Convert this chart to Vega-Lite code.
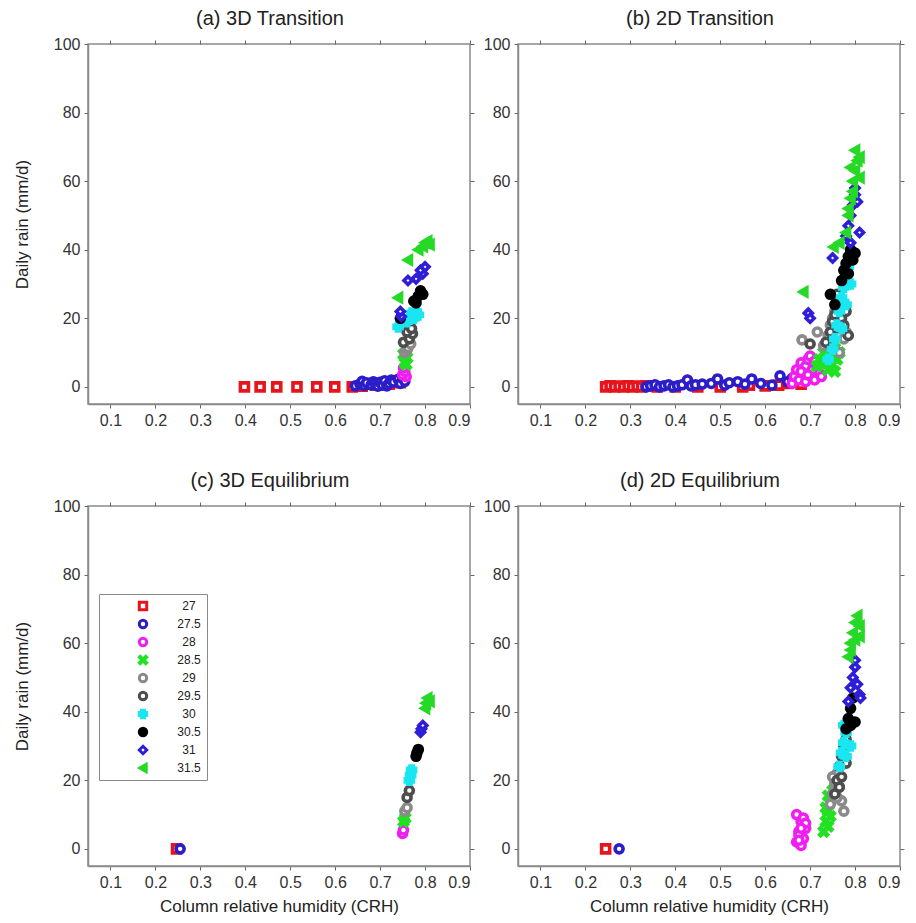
{
"$schema": "https://vega.github.io/schema/vega-lite/v6.json",
"padding": {"left": 12, "top": 8, "right": 5, "bottom": 5},
"background": "white",
"datasets": {"pts": [
{"p":"a","T":"27","x":0.398,"y":0},{"p":"a","T":"27","x":0.433,"y":0},{"p":"a","T":"27","x":0.47,"y":0},{"p":"a","T":"27","x":0.515,"y":0},{"p":"a","T":"27","x":0.559,"y":0},{"p":"a","T":"27","x":0.599,"y":0},{"p":"a","T":"27","x":0.638,"y":0},{"p":"a","T":"27","x":0.66,"y":0.2},{"p":"a","T":"27","x":0.69,"y":0.5},{"p":"a","T":"27","x":0.72,"y":0.8},{"p":"a","T":"27","x":0.745,"y":1.2},
{"p":"a","T":"27.5","x":0.645,"y":0.3},{"p":"a","T":"27.5","x":0.655,"y":0.8},{"p":"a","T":"27.5","x":0.66,"y":1.6},{"p":"a","T":"27.5","x":0.665,"y":0.4},{"p":"a","T":"27.5","x":0.67,"y":1.2},{"p":"a","T":"27.5","x":0.68,"y":0.6},{"p":"a","T":"27.5","x":0.685,"y":1.5},{"p":"a","T":"27.5","x":0.69,"y":0.9},{"p":"a","T":"27.5","x":0.695,"y":0.2},{"p":"a","T":"27.5","x":0.7,"y":1.3},{"p":"a","T":"27.5","x":0.705,"y":0.5},{"p":"a","T":"27.5","x":0.71,"y":1.8},{"p":"a","T":"27.5","x":0.715,"y":0.3},{"p":"a","T":"27.5","x":0.72,"y":1.0},{"p":"a","T":"27.5","x":0.725,"y":2.0},{"p":"a","T":"27.5","x":0.73,"y":1.4},{"p":"a","T":"27.5","x":0.74,"y":2.2},{"p":"a","T":"27.5","x":0.745,"y":1.0},{"p":"a","T":"27.5","x":0.75,"y":2.5},{"p":"a","T":"27.5","x":0.755,"y":1.6},
{"p":"a","T":"28","x":0.758,"y":3.0},{"p":"a","T":"28","x":0.75,"y":3.5},{"p":"a","T":"28","x":0.755,"y":4.5},{"p":"a","T":"28","x":0.752,"y":5.5},
{"p":"a","T":"28.5","x":0.758,"y":6.5},{"p":"a","T":"28.5","x":0.755,"y":7},{"p":"a","T":"28.5","x":0.76,"y":8.5},{"p":"a","T":"28.5","x":0.752,"y":9.5},
{"p":"a","T":"29","x":0.755,"y":10},{"p":"a","T":"29","x":0.76,"y":10.8},{"p":"a","T":"29","x":0.762,"y":11.5},{"p":"a","T":"29","x":0.768,"y":12.5},
{"p":"a","T":"29.5","x":0.752,"y":13},{"p":"a","T":"29.5","x":0.765,"y":14},{"p":"a","T":"29.5","x":0.772,"y":15.5},{"p":"a","T":"29.5","x":0.76,"y":16},{"p":"a","T":"29.5","x":0.77,"y":17},
{"p":"a","T":"30","x":0.74,"y":17.5},{"p":"a","T":"30","x":0.76,"y":19},{"p":"a","T":"30","x":0.775,"y":20},{"p":"a","T":"30","x":0.77,"y":21.5},{"p":"a","T":"30","x":0.785,"y":21},{"p":"a","T":"30","x":0.78,"y":22},
{"p":"a","T":"30.5","x":0.745,"y":20},{"p":"a","T":"30.5","x":0.78,"y":24.5},{"p":"a","T":"30.5","x":0.775,"y":25},{"p":"a","T":"30.5","x":0.785,"y":26.5},{"p":"a","T":"30.5","x":0.795,"y":27},{"p":"a","T":"30.5","x":0.79,"y":28},
{"p":"a","T":"31","x":0.747,"y":20.5},{"p":"a","T":"31","x":0.745,"y":22},{"p":"a","T":"31","x":0.762,"y":31},{"p":"a","T":"31","x":0.78,"y":31.5},{"p":"a","T":"31","x":0.795,"y":33},{"p":"a","T":"31","x":0.79,"y":34},{"p":"a","T":"31","x":0.8,"y":35},
{"p":"a","T":"31.5","x":0.74,"y":26},{"p":"a","T":"31.5","x":0.762,"y":37},{"p":"a","T":"31.5","x":0.785,"y":40},{"p":"a","T":"31.5","x":0.795,"y":41},{"p":"a","T":"31.5","x":0.81,"y":41.5},{"p":"a","T":"31.5","x":0.8,"y":42},{"p":"a","T":"31.5","x":0.805,"y":42.5},

{"p":"b","T":"27","x":0.245,"y":0},{"p":"b","T":"27","x":0.255,"y":0.3},{"p":"b","T":"27","x":0.265,"y":0},{"p":"b","T":"27","x":0.275,"y":0.2},{"p":"b","T":"27","x":0.285,"y":0},{"p":"b","T":"27","x":0.295,"y":0.3},{"p":"b","T":"27","x":0.305,"y":0},{"p":"b","T":"27","x":0.315,"y":0.2},{"p":"b","T":"27","x":0.325,"y":0},{"p":"b","T":"27","x":0.335,"y":0.3},{"p":"b","T":"27","x":0.36,"y":0},{"p":"b","T":"27","x":0.4,"y":0},{"p":"b","T":"27","x":0.45,"y":0},{"p":"b","T":"27","x":0.5,"y":0},{"p":"b","T":"27","x":0.55,"y":0},{"p":"b","T":"27","x":0.565,"y":0.5},{"p":"b","T":"27","x":0.6,"y":0.3},{"p":"b","T":"27","x":0.63,"y":0.5},{"p":"b","T":"27","x":0.65,"y":1.0},{"p":"b","T":"27","x":0.68,"y":0.8},
{"p":"b","T":"27.5","x":0.335,"y":0},{"p":"b","T":"27.5","x":0.345,"y":0.3},{"p":"b","T":"27.5","x":0.355,"y":0.6},{"p":"b","T":"27.5","x":0.365,"y":0},{"p":"b","T":"27.5","x":0.375,"y":0.3},{"p":"b","T":"27.5","x":0.385,"y":0.6},{"p":"b","T":"27.5","x":0.395,"y":0},{"p":"b","T":"27.5","x":0.405,"y":0.3},{"p":"b","T":"27.5","x":0.415,"y":0.6},{"p":"b","T":"27.5","x":0.427,"y":2.0},{"p":"b","T":"27.5","x":0.435,"y":0.3},{"p":"b","T":"27.5","x":0.445,"y":0.6},{"p":"b","T":"27.5","x":0.46,"y":0.8},{"p":"b","T":"27.5","x":0.48,"y":1.0},{"p":"b","T":"27.5","x":0.494,"y":2.3},{"p":"b","T":"27.5","x":0.51,"y":0.5},{"p":"b","T":"27.5","x":0.52,"y":1.2},{"p":"b","T":"27.5","x":0.539,"y":1.5},{"p":"b","T":"27.5","x":0.555,"y":0.8},{"p":"b","T":"27.5","x":0.57,"y":2.3},{"p":"b","T":"27.5","x":0.59,"y":1.0},{"p":"b","T":"27.5","x":0.615,"y":0.5},{"p":"b","T":"27.5","x":0.633,"y":3.2},{"p":"b","T":"27.5","x":0.65,"y":1.5},{"p":"b","T":"27.5","x":0.66,"y":2.5},
{"p":"b","T":"28","x":0.66,"y":1},{"p":"b","T":"28","x":0.665,"y":3},{"p":"b","T":"28","x":0.67,"y":5},{"p":"b","T":"28","x":0.675,"y":2},{"p":"b","T":"28","x":0.68,"y":7},{"p":"b","T":"28","x":0.685,"y":4},{"p":"b","T":"28","x":0.69,"y":6},{"p":"b","T":"28","x":0.695,"y":8},{"p":"b","T":"28","x":0.7,"y":3},{"p":"b","T":"28","x":0.705,"y":5},{"p":"b","T":"28","x":0.71,"y":2},{"p":"b","T":"28","x":0.715,"y":6.5},{"p":"b","T":"28","x":0.72,"y":4},{"p":"b","T":"28","x":0.725,"y":3},{"p":"b","T":"28","x":0.69,"y":1.5},{"p":"b","T":"28","x":0.7,"y":9},{"p":"b","T":"28","x":0.68,"y":4.5},{"p":"b","T":"28","x":0.695,"y":3.5},{"p":"b","T":"28","x":0.71,"y":7.5},
{"p":"b","T":"28.5","x":0.715,"y":6},{"p":"b","T":"28.5","x":0.72,"y":8},{"p":"b","T":"28.5","x":0.73,"y":10},{"p":"b","T":"28.5","x":0.735,"y":7},{"p":"b","T":"28.5","x":0.74,"y":12},{"p":"b","T":"28.5","x":0.745,"y":9},{"p":"b","T":"28.5","x":0.75,"y":11},{"p":"b","T":"28.5","x":0.755,"y":13},{"p":"b","T":"28.5","x":0.76,"y":8},{"p":"b","T":"28.5","x":0.765,"y":10},{"p":"b","T":"28.5","x":0.74,"y":5},{"p":"b","T":"28.5","x":0.75,"y":6.5},{"p":"b","T":"28.5","x":0.755,"y":4.5},
{"p":"b","T":"29","x":0.682,"y":13.7},{"p":"b","T":"29","x":0.716,"y":16},{"p":"b","T":"29","x":0.73,"y":12},{"p":"b","T":"29","x":0.74,"y":15},{"p":"b","T":"29","x":0.745,"y":18},{"p":"b","T":"29","x":0.75,"y":20},{"p":"b","T":"29","x":0.755,"y":22},{"p":"b","T":"29","x":0.76,"y":17},{"p":"b","T":"29","x":0.765,"y":10},{"p":"b","T":"29","x":0.77,"y":24},{"p":"b","T":"29","x":0.775,"y":14},{"p":"b","T":"29","x":0.78,"y":16},{"p":"b","T":"29","x":0.76,"y":25},{"p":"b","T":"29","x":0.75,"y":14},{"p":"b","T":"29","x":0.765,"y":20},
{"p":"b","T":"29.5","x":0.7,"y":12.5},{"p":"b","T":"29.5","x":0.735,"y":13},{"p":"b","T":"29.5","x":0.745,"y":16},{"p":"b","T":"29.5","x":0.75,"y":19},{"p":"b","T":"29.5","x":0.755,"y":21},{"p":"b","T":"29.5","x":0.76,"y":23},{"p":"b","T":"29.5","x":0.765,"y":26},{"p":"b","T":"29.5","x":0.77,"y":20},{"p":"b","T":"29.5","x":0.775,"y":18},{"p":"b","T":"29.5","x":0.78,"y":22},{"p":"b","T":"29.5","x":0.785,"y":15},{"p":"b","T":"29.5","x":0.76,"y":27},{"p":"b","T":"29.5","x":0.765,"y":17},
{"p":"b","T":"30","x":0.74,"y":8},{"p":"b","T":"30","x":0.75,"y":11},{"p":"b","T":"30","x":0.755,"y":14},{"p":"b","T":"30","x":0.76,"y":18},{"p":"b","T":"30","x":0.765,"y":22},{"p":"b","T":"30","x":0.77,"y":26},{"p":"b","T":"30","x":0.775,"y":29},{"p":"b","T":"30","x":0.78,"y":32},{"p":"b","T":"30","x":0.785,"y":35},{"p":"b","T":"30","x":0.79,"y":30},{"p":"b","T":"30","x":0.78,"y":24},{"p":"b","T":"30","x":0.77,"y":17},
{"p":"b","T":"30.5","x":0.745,"y":27},{"p":"b","T":"30.5","x":0.755,"y":24},{"p":"b","T":"30.5","x":0.77,"y":31},{"p":"b","T":"30.5","x":0.775,"y":34},{"p":"b","T":"30.5","x":0.78,"y":36},{"p":"b","T":"30.5","x":0.785,"y":38},{"p":"b","T":"30.5","x":0.79,"y":40},{"p":"b","T":"30.5","x":0.795,"y":37},{"p":"b","T":"30.5","x":0.8,"y":39},{"p":"b","T":"30.5","x":0.785,"y":33},
{"p":"b","T":"31","x":0.696,"y":21.5},{"p":"b","T":"31","x":0.7,"y":20},{"p":"b","T":"31","x":0.75,"y":37.6},{"p":"b","T":"31","x":0.78,"y":44},{"p":"b","T":"31","x":0.785,"y":47},{"p":"b","T":"31","x":0.79,"y":50},{"p":"b","T":"31","x":0.795,"y":53},{"p":"b","T":"31","x":0.8,"y":56},{"p":"b","T":"31","x":0.805,"y":54},{"p":"b","T":"31","x":0.81,"y":45},{"p":"b","T":"31","x":0.79,"y":42},{"p":"b","T":"31","x":0.8,"y":58},
{"p":"b","T":"31.5","x":0.685,"y":27.7},{"p":"b","T":"31.5","x":0.752,"y":40.8},{"p":"b","T":"31.5","x":0.765,"y":42},{"p":"b","T":"31.5","x":0.78,"y":45},{"p":"b","T":"31.5","x":0.785,"y":50},{"p":"b","T":"31.5","x":0.785,"y":52},{"p":"b","T":"31.5","x":0.79,"y":55},{"p":"b","T":"31.5","x":0.795,"y":57},{"p":"b","T":"31.5","x":0.795,"y":60},{"p":"b","T":"31.5","x":0.81,"y":61},{"p":"b","T":"31.5","x":0.8,"y":63},{"p":"b","T":"31.5","x":0.79,"y":64},{"p":"b","T":"31.5","x":0.805,"y":66},{"p":"b","T":"31.5","x":0.81,"y":67},{"p":"b","T":"31.5","x":0.8,"y":69},

{"p":"c","T":"27","x":0.247,"y":0},
{"p":"c","T":"27.5","x":0.255,"y":0},
{"p":"c","T":"28","x":0.75,"y":4.5},{"p":"c","T":"28","x":0.752,"y":5.5},
{"p":"c","T":"28.5","x":0.752,"y":8},{"p":"c","T":"28.5","x":0.756,"y":9},
{"p":"c","T":"29","x":0.755,"y":11},{"p":"c","T":"29","x":0.76,"y":12},
{"p":"c","T":"29.5","x":0.76,"y":15},{"p":"c","T":"29.5","x":0.765,"y":17},
{"p":"c","T":"30","x":0.765,"y":20},{"p":"c","T":"30","x":0.768,"y":21.5},{"p":"c","T":"30","x":0.77,"y":23},
{"p":"c","T":"30.5","x":0.78,"y":27},{"p":"c","T":"30.5","x":0.782,"y":28},{"p":"c","T":"30.5","x":0.785,"y":29},
{"p":"c","T":"31","x":0.79,"y":34},{"p":"c","T":"31","x":0.792,"y":35},{"p":"c","T":"31","x":0.795,"y":36},
{"p":"c","T":"31.5","x":0.8,"y":41},{"p":"c","T":"31.5","x":0.802,"y":42.5},{"p":"c","T":"31.5","x":0.81,"y":43},{"p":"c","T":"31.5","x":0.805,"y":44},

{"p":"d","T":"27","x":0.245,"y":0},
{"p":"d","T":"27.5","x":0.275,"y":0},
{"p":"d","T":"28","x":0.67,"y":2},{"p":"d","T":"28","x":0.675,"y":5},{"p":"d","T":"28","x":0.68,"y":8},{"p":"d","T":"28","x":0.685,"y":3},{"p":"d","T":"28","x":0.69,"y":6},{"p":"d","T":"28","x":0.67,"y":10},{"p":"d","T":"28","x":0.68,"y":1},{"p":"d","T":"28","x":0.685,"y":9},{"p":"d","T":"28","x":0.675,"y":4},{"p":"d","T":"28","x":0.69,"y":7.5},{"p":"d","T":"28","x":0.68,"y":6},{"p":"d","T":"28","x":0.675,"y":2.5},
{"p":"d","T":"28.5","x":0.73,"y":5},{"p":"d","T":"28.5","x":0.735,"y":8},{"p":"d","T":"28.5","x":0.74,"y":11},{"p":"d","T":"28.5","x":0.745,"y":14},{"p":"d","T":"28.5","x":0.75,"y":17},{"p":"d","T":"28.5","x":0.74,"y":6.5},{"p":"d","T":"28.5","x":0.735,"y":12},{"p":"d","T":"28.5","x":0.745,"y":9.5},{"p":"d","T":"28.5","x":0.74,"y":15.5},
{"p":"d","T":"29","x":0.745,"y":13},{"p":"d","T":"29","x":0.75,"y":16},{"p":"d","T":"29","x":0.755,"y":19},{"p":"d","T":"29","x":0.76,"y":22},{"p":"d","T":"29","x":0.765,"y":18},{"p":"d","T":"29","x":0.77,"y":14},{"p":"d","T":"29","x":0.775,"y":11},{"p":"d","T":"29","x":0.76,"y":15},{"p":"d","T":"29","x":0.75,"y":21},{"p":"d","T":"29","x":0.755,"y":17},
{"p":"d","T":"29.5","x":0.755,"y":16},{"p":"d","T":"29.5","x":0.76,"y":20},{"p":"d","T":"29.5","x":0.765,"y":24},{"p":"d","T":"29.5","x":0.77,"y":27},{"p":"d","T":"29.5","x":0.775,"y":30},{"p":"d","T":"29.5","x":0.78,"y":25},{"p":"d","T":"29.5","x":0.77,"y":21},{"p":"d","T":"29.5","x":0.78,"y":32},{"p":"d","T":"29.5","x":0.765,"y":18},
{"p":"d","T":"30","x":0.765,"y":24},{"p":"d","T":"30","x":0.77,"y":28},{"p":"d","T":"30","x":0.775,"y":31},{"p":"d","T":"30","x":0.78,"y":34},{"p":"d","T":"30","x":0.785,"y":37},{"p":"d","T":"30","x":0.78,"y":27},{"p":"d","T":"30","x":0.775,"y":36},{"p":"d","T":"30","x":0.79,"y":30},
{"p":"d","T":"30.5","x":0.78,"y":35},{"p":"d","T":"30.5","x":0.785,"y":38},{"p":"d","T":"30.5","x":0.79,"y":41},{"p":"d","T":"30.5","x":0.795,"y":44},{"p":"d","T":"30.5","x":0.8,"y":37},{"p":"d","T":"30.5","x":0.79,"y":36},
{"p":"d","T":"31","x":0.785,"y":43},{"p":"d","T":"31","x":0.79,"y":47},{"p":"d","T":"31","x":0.795,"y":50},{"p":"d","T":"31","x":0.8,"y":53},{"p":"d","T":"31","x":0.805,"y":48},{"p":"d","T":"31","x":0.81,"y":45},{"p":"d","T":"31","x":0.812,"y":44},{"p":"d","T":"31","x":0.8,"y":55},
{"p":"d","T":"31.5","x":0.785,"y":56},{"p":"d","T":"31.5","x":0.79,"y":58},{"p":"d","T":"31.5","x":0.79,"y":60},{"p":"d","T":"31.5","x":0.8,"y":61},{"p":"d","T":"31.5","x":0.795,"y":63},{"p":"d","T":"31.5","x":0.81,"y":62},{"p":"d","T":"31.5","x":0.81,"y":65},{"p":"d","T":"31.5","x":0.8,"y":66},{"p":"d","T":"31.5","x":0.805,"y":68}
]},
"columns": 2,
"spacing": {"row": 102, "column": 48},
"bounds": "flush",
"concat": [
{"width": 382, "height": 360, "title": {"text": "(a) 3D Transition"},
 "data": {"name": "pts"}, "transform": [{"filter": "datum.p == 'a'"}],
 "layer": [
  {"mark": {"type": "point", "opacity": 0},
   "encoding": {
    "x": {"field": "x", "type": "quantitative", "scale": {"domain": [0.05, 0.9], "nice": false, "zero": false}, "axis": {"orient": "top", "labels": false, "title": null, "domain": false, "values": [0.1,0.2,0.3,0.4,0.5,0.6,0.7,0.8,0.9]}},
    "y": {"field": "y", "type": "quantitative", "scale": {"domain": [-5, 100], "nice": false, "zero": false}, "axis": {"orient": "right", "labels": false, "title": null, "domain": false, "values": [0,20,40,60,80,100]}}}},
  {"mark": {"type": "point", "size": 64, "strokeWidth": 3.6, "opacity": 1},
   "encoding": {
    "x": {"field": "x", "type": "quantitative", "axis": {"title": null, "format": ".1f", "values": [0.1,0.2,0.3,0.4,0.5,0.6,0.7,0.8,0.9]}},
    "y": {"field": "y", "type": "quantitative", "axis": {"title": "Daily rain (mm/d)", "values": [0,20,40,60,80,100]}},
    "stroke": {"field": "T", "type": "nominal", "scale": {"domain": ["27","27.5","28","28.5","29","29.5","30","30.5","31","31.5"], "range": ["#e8141c","#2b1dc8","#f01ef0","#22e022","#8a8a8a","#4d4d4d","#19e6f0","#000000","#2f1ed8","#26d926"]}},
    "fill": {"field": "T", "type": "nominal", "scale": {"domain": ["27","27.5","28","28.5","29","29.5","30","30.5","31","31.5"], "range": ["#ffffff","#ffffff","#ffffff","#22e022","#ffffff","#ffffff","#19e6f0","#000000","#ffffff","#26d926"]}},
    "shape": {"field": "T", "type": "nominal", "scale": {"domain": ["27","27.5","28","28.5","29","29.5","30","30.5","31","31.5"], "range": ["square","circle","circle","M-0.75,-1L0,-0.25L0.75,-1L1,-0.75L0.25,0L1,0.75L0.75,1L0,0.25L-0.75,1L-1,0.75L-0.25,0L-1,-0.75Z","circle","circle","cross","circle","diamond","triangle-left"]}}}}
 ],
 "resolve": {"axis": {"x": "independent", "y": "independent"}}},
{"width": 382, "height": 360, "title": {"text": "(b) 2D Transition"},
 "data": {"name": "pts"}, "transform": [{"filter": "datum.p == 'b'"}],
 "layer": [
  {"mark": {"type": "point", "opacity": 0},
   "encoding": {
    "x": {"field": "x", "type": "quantitative", "scale": {"domain": [0.05, 0.9], "nice": false, "zero": false}, "axis": {"orient": "top", "labels": false, "title": null, "domain": false, "values": [0.1,0.2,0.3,0.4,0.5,0.6,0.7,0.8,0.9]}},
    "y": {"field": "y", "type": "quantitative", "scale": {"domain": [-5, 100], "nice": false, "zero": false}, "axis": {"orient": "right", "labels": false, "title": null, "domain": false, "values": [0,20,40,60,80,100]}}}},
  {"mark": {"type": "point", "size": 64, "strokeWidth": 3.6, "opacity": 1},
   "encoding": {
    "x": {"field": "x", "type": "quantitative", "axis": {"title": null, "format": ".1f", "values": [0.1,0.2,0.3,0.4,0.5,0.6,0.7,0.8,0.9]}},
    "y": {"field": "y", "type": "quantitative", "axis": {"title": null, "values": [0,20,40,60,80,100]}},
    "stroke": {"field": "T", "type": "nominal", "scale": {"domain": ["27","27.5","28","28.5","29","29.5","30","30.5","31","31.5"], "range": ["#e8141c","#2b1dc8","#f01ef0","#22e022","#8a8a8a","#4d4d4d","#19e6f0","#000000","#2f1ed8","#26d926"]}},
    "fill": {"field": "T", "type": "nominal", "scale": {"domain": ["27","27.5","28","28.5","29","29.5","30","30.5","31","31.5"], "range": ["#ffffff","#ffffff","#ffffff","#22e022","#ffffff","#ffffff","#19e6f0","#000000","#ffffff","#26d926"]}},
    "shape": {"field": "T", "type": "nominal", "scale": {"domain": ["27","27.5","28","28.5","29","29.5","30","30.5","31","31.5"], "range": ["square","circle","circle","M-0.75,-1L0,-0.25L0.75,-1L1,-0.75L0.25,0L1,0.75L0.75,1L0,0.25L-0.75,1L-1,0.75L-0.25,0L-1,-0.75Z","circle","circle","cross","circle","diamond","triangle-left"]}}}}
 ],
 "resolve": {"axis": {"x": "independent", "y": "independent"}}},
{"width": 382, "height": 360, "title": {"text": "(c) 3D  Equilibrium"},
 "data": {"name": "pts"}, "transform": [{"filter": "datum.p == 'c'"}],
 "layer": [
  {"mark": {"type": "point", "opacity": 0},
   "encoding": {
    "x": {"field": "x", "type": "quantitative", "scale": {"domain": [0.05, 0.9], "nice": false, "zero": false}, "axis": {"orient": "top", "labels": false, "title": null, "domain": false, "values": [0.1,0.2,0.3,0.4,0.5,0.6,0.7,0.8,0.9]}},
    "y": {"field": "y", "type": "quantitative", "scale": {"domain": [-5, 100], "nice": false, "zero": false}, "axis": {"orient": "right", "labels": false, "title": null, "domain": false, "values": [0,20,40,60,80,100]}}}},
  {"mark": {"type": "point", "size": 64, "strokeWidth": 3.6, "opacity": 1},
   "encoding": {
    "x": {"field": "x", "type": "quantitative", "axis": {"title": "Column relative humidity (CRH)", "format": ".1f", "values": [0.1,0.2,0.3,0.4,0.5,0.6,0.7,0.8,0.9]}},
    "y": {"field": "y", "type": "quantitative", "axis": {"title": "Daily rain (mm/d)", "values": [0,20,40,60,80,100]}},
    "stroke": {"field": "T", "type": "nominal", "scale": {"domain": ["27","27.5","28","28.5","29","29.5","30","30.5","31","31.5"], "range": ["#e8141c","#2b1dc8","#f01ef0","#22e022","#8a8a8a","#4d4d4d","#19e6f0","#000000","#2f1ed8","#26d926"]}},
    "fill": {"field": "T", "type": "nominal", "scale": {"domain": ["27","27.5","28","28.5","29","29.5","30","30.5","31","31.5"], "range": ["#ffffff","#ffffff","#ffffff","#22e022","#ffffff","#ffffff","#19e6f0","#000000","#ffffff","#26d926"]}},
    "shape": {"field": "T", "type": "nominal", "scale": {"domain": ["27","27.5","28","28.5","29","29.5","30","30.5","31","31.5"], "range": ["square","circle","circle","M-0.75,-1L0,-0.25L0.75,-1L1,-0.75L0.25,0L1,0.75L0.75,1L0,0.25L-0.75,1L-1,0.75L-0.25,0L-1,-0.75Z","circle","circle","cross","circle","diamond","triangle-left"]}}}}
 ],
 "resolve": {"axis": {"x": "independent", "y": "independent"}}},
{"width": 382, "height": 360, "title": {"text": "(d) 2D  Equilibrium"},
 "data": {"name": "pts"}, "transform": [{"filter": "datum.p == 'd'"}],
 "layer": [
  {"mark": {"type": "point", "opacity": 0},
   "encoding": {
    "x": {"field": "x", "type": "quantitative", "scale": {"domain": [0.05, 0.9], "nice": false, "zero": false}, "axis": {"orient": "top", "labels": false, "title": null, "domain": false, "values": [0.1,0.2,0.3,0.4,0.5,0.6,0.7,0.8,0.9]}},
    "y": {"field": "y", "type": "quantitative", "scale": {"domain": [-5, 100], "nice": false, "zero": false}, "axis": {"orient": "right", "labels": false, "title": null, "domain": false, "values": [0,20,40,60,80,100]}}}},
  {"mark": {"type": "point", "size": 64, "strokeWidth": 3.6, "opacity": 1},
   "encoding": {
    "x": {"field": "x", "type": "quantitative", "axis": {"title": "Column relative humidity (CRH)", "format": ".1f", "values": [0.1,0.2,0.3,0.4,0.5,0.6,0.7,0.8,0.9]}},
    "y": {"field": "y", "type": "quantitative", "axis": {"title": null, "values": [0,20,40,60,80,100]}},
    "stroke": {"field": "T", "type": "nominal", "scale": {"domain": ["27","27.5","28","28.5","29","29.5","30","30.5","31","31.5"], "range": ["#e8141c","#2b1dc8","#f01ef0","#22e022","#8a8a8a","#4d4d4d","#19e6f0","#000000","#2f1ed8","#26d926"]}},
    "fill": {"field": "T", "type": "nominal", "scale": {"domain": ["27","27.5","28","28.5","29","29.5","30","30.5","31","31.5"], "range": ["#ffffff","#ffffff","#ffffff","#22e022","#ffffff","#ffffff","#19e6f0","#000000","#ffffff","#26d926"]}},
    "shape": {"field": "T", "type": "nominal", "scale": {"domain": ["27","27.5","28","28.5","29","29.5","30","30.5","31","31.5"], "range": ["square","circle","circle","M-0.75,-1L0,-0.25L0.75,-1L1,-0.75L0.25,0L1,0.75L0.75,1L0,0.25L-0.75,1L-1,0.75L-0.25,0L-1,-0.75Z","circle","circle","cross","circle","diamond","triangle-left"]}}}}
 ],
 "resolve": {"axis": {"x": "independent", "y": "independent"}}}
],
"config": {
 "font": "Liberation Sans",
 "view": {"stroke": "#8a8a8a", "strokeWidth": 1.5},
 "axis": {"grid": false, "labelFontSize": 16, "labelColor": "#333333", "labelPadding": 4, "domainColor": "#8a8a8a", "domainWidth": 1.5, "tickColor": "#666666", "tickSize": 4, "tickWidth": 1, "titleFontSize": 17, "titleFontWeight": "normal", "titleColor": "#222222"},
 "axisY": {"titlePadding": 22},
 "axisX": {"titlePadding": 8},
 "title": {"fontSize": 20, "fontWeight": "normal", "color": "#222222", "frame": "group", "dx": -9, "offset": 7},
 "legend": {"orient": "none", "legendX": 11, "legendY": 550, "title": null, "strokeColor": "#8a8a8a", "padding": 6, "labelAlign": "center", "labelOffset": 40, "symbolOffset": 32, "labelFontSize": 12, "labelColor": "#222222", "symbolSize": 55, "symbolStrokeWidth": 3, "rowPadding": 6, "clipHeight": 12}
}
}
